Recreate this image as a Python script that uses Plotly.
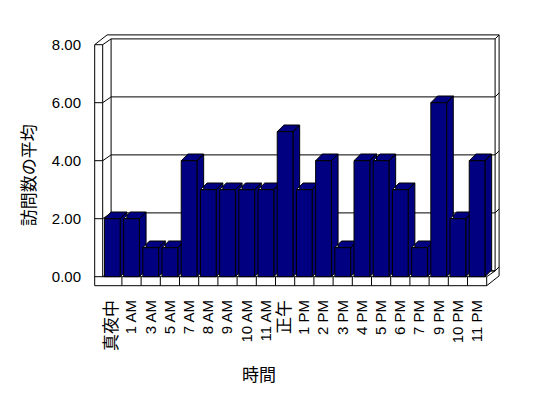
import plotly.graph_objects as go

# ---- data ----
categories = ["真夜中", "1 AM", "3 AM", "5 AM", "7 AM", "8 AM", "9 AM", "10 AM", "11 AM", "正午",
              "1 PM", "2 PM", "3 PM", "4 PM", "5 PM", "6 PM", "7 PM", "9 PM", "10 PM", "11 PM"]
visits = [2, 2, 1, 1, 4, 3, 3, 3, 3, 5, 3, 4, 1, 4, 4, 3, 1, 6, 2, 4]
y_ticks = [0, 2, 4, 6, 8]
x_title = "時間"
y_title = "訪問数の平均"

# ---- geometry (pixel scale of the front plane) ----
OFF = 8                      # page body margin
W, H = 548 - OFF, 398 - OFF
ML, MR, MT, MB = 80, 40, 18, 108
PX = 19.2   # px per category
PY = 29.0   # px per value unit
n = len(categories)
ymax = y_ticks[-1]
x_lo = -0.5 - (102.7 - OFF - ML) / PX
x_hi = x_lo + (W - ML - MR) / PX
y_hi = (276.7 - OFF - MT) / PY
y_lo = y_hi - (H - MT - MB) / PY


def dx(p):
    return p / PX


def dy(p):
    return p / PY


Dx, Dy = dx(8.4), dy(5.8)      # depth of the walls
Ex, Ey = dx(4.0), dy(4.0)      # thickness of the back wall
wall_w = dx(8.0)               # left wall front thickness
floor_h = dy(9.0)              # floor front thickness
Bx, By = dx(6.7), dy(6.7)      # bar depth
bw = 0.82                      # bar width

L, R = -0.5, n - 0.5


def path(points, closed=False):
    s = "M " + " L ".join(f"{x},{y}" for x, y in points)
    return s + (" Z" if closed else "")


line = dict(color="black", width=1)
shapes = []


def add(points, closed=False):
    shapes.append(dict(type="path", path=path(points, closed), xref="x", yref="y",
                       line=line, layer="below"))


# outer outline
add([(L - wall_w, ymax), (L - wall_w, -floor_h), (R, -floor_h),
     (R + Dx + Ex, -floor_h + Dy + Ey), (R + Dx + Ex, ymax + Dy + Ey),
     (L - wall_w + Dx + Ex, ymax + Dy + Ey)], closed=True)
# wall front / floor front inner edges
add([(L - wall_w, ymax), (L, ymax), (L, 0), (R, 0), (R, -floor_h)])
# back wall inner rectangle
add([(L, ymax), (L + Dx, ymax + Dy), (R + Dx, ymax + Dy), (R + Dx, Dy), (R, 0)])
add([(L + Dx, ymax + Dy), (L + Dx, Dy), (R + Dx, Dy)])
add([(R + Dx, ymax + Dy), (R + Dx + Ex, ymax + Dy + Ey)])
# gridlines
for t in y_ticks[:-1]:
    add([(L - wall_w, t), (L, t), (L + Dx, t + Dy), (R + Dx, t + Dy), (R + Dx + Ex, t + Dy + Ey)])
# floor dividers
for i in range(n - 1):
    add([(i + 0.5, -floor_h), (i + 0.5, 0)])

# ---- bar tops and sides ----
fx, fy = [], []
for i, v in enumerate(visits):
    a, b = i - bw / 2, i + bw / 2
    # side
    fx += [b, b, b + Bx, b + Bx, b, None]
    fy += [0, v, v + By, By, 0, None]
    # top
    fx += [a, b, b + Bx, a + Bx, a, None]
    fy += [v, v, v + By, v + By, v, None]

navy = "#000080"
fig = go.Figure()
fig.add_trace(go.Scatter(x=fx, y=fy, mode="lines", fill="toself", fillcolor=navy,
                         line=line, hoverinfo="skip", showlegend=False, xaxis="x", yaxis="y"))
fig.add_trace(go.Bar(x=list(range(n)), y=visits, width=bw,
                     marker=dict(color=navy, line=line), showlegend=False,
                     xaxis="x2", yaxis="y2"))


def tick_label(s):
    # CJK labels are drawn a little larger, as in the original
    if any(ord(c) > 127 for c in s):
        return f"<span style='font-size:17px'>{s}</span>"
    return s


font = "Liberation Sans, Arial, Noto Sans CJK JP, sans-serif"
pw, ph = W - ML - MR, H - MT - MB
fig.update_layout(
    template="none",
    width=W, height=H, margin=dict(l=ML, r=MR, t=MT, b=MB, autoexpand=False),
    paper_bgcolor="white", plot_bgcolor="white",
    font=dict(family=font, size=15, color="black"),
    showlegend=False,
    xaxis=dict(range=[x_lo, x_hi], showgrid=False, zeroline=False, showline=False,
               automargin=False,
               tickmode="array", tickvals=list(range(n)),
               ticktext=[tick_label(c) for c in categories],
               tickangle=-90, ticks="", ticklabelstandoff=6,
               tickfont=dict(size=15)),
    yaxis=dict(range=[y_lo, y_hi], showgrid=False, zeroline=False, showline=False,
               automargin=False,
               tickmode="array", tickvals=y_ticks, ticktext=[f"{t:.2f}" for t in y_ticks],
               ticks="", ticklabelstandoff=6, tickfont=dict(size=15)),
    xaxis2=dict(range=[x_lo, x_hi], overlaying="x", visible=False, anchor="y2", automargin=False),
    yaxis2=dict(range=[y_lo, y_hi], overlaying="y", visible=False, anchor="x2", automargin=False),
    shapes=shapes,
    annotations=[
        dict(text=x_title, xref="paper", yref="paper",
             x=(259 - OFF - ML) / pw, y=(H - MB - (375.7 - OFF)) / ph, showarrow=False,
             font=dict(size=17), xanchor="center", yanchor="middle"),
        dict(text=y_title, xref="paper", yref="paper",
             x=(29.3 - OFF - ML) / pw, y=(H - MB - (175 - OFF)) / ph, showarrow=False,
             textangle=-90, font=dict(size=17), xanchor="center", yanchor="middle"),
    ],
)
fig.write_html("out.html")
